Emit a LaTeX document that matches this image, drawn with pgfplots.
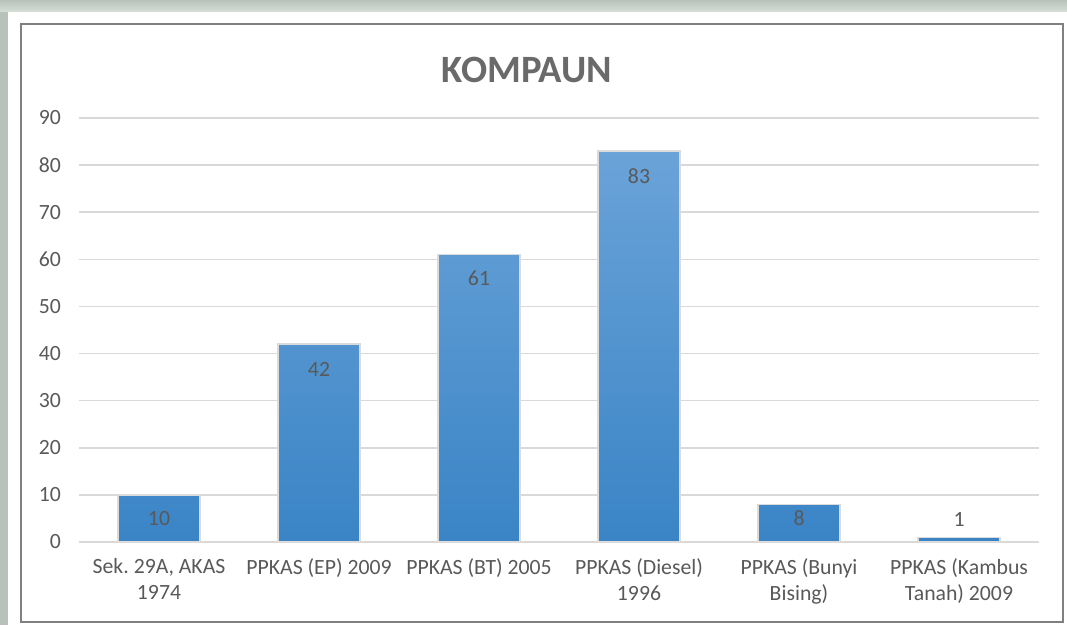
\documentclass[border=0pt]{standalone}
\usepackage{pgfplots}
\usepackage{pgfplotstable}
\pgfplotsset{compat=1.18}
\usepackage{fontspec}
\setmainfont{Carlito}
\frenchspacing

\definecolor{txt}{HTML}{595959}
\definecolor{gridc}{HTML}{D9D9D9}
\definecolor{bartop}{HTML}{6AA3D8}
\definecolor{barbot}{HTML}{3A84C6}
\definecolor{framec}{HTML}{B7C3BA}

% x, value, shift of the value label from the bar top (pt)
\pgfplotstableread{
x y dy
0 10 -18
1 42 -18.75
2 61 -18
3 83 -18.75
4 8 -10.5
5 1 13.5
}\kompaun

\begin{document}
\begin{tikzpicture}
% background and chart border, 1px = 0.75pt, origin at the plot area's lower left
\fill[framec] (-59.25pt,-62.25pt) rectangle (741pt,406.5pt);
\shade[top color=framec, bottom color=framec!55] (-59.25pt,397.5pt) rectangle (741pt,406.5pt);
\fill[white] (-53.25pt,-62.25pt) rectangle (741pt,397.5pt);
\draw[black!50, line width=1.5pt] (-43.5pt,-60pt) rectangle (738pt,388.5pt);

\begin{axis}[
	at={(0,0)}, anchor=south west,
	scale only axis, width=720pt, height=318pt,
	xmin=-0.5, xmax=5.5, ymin=0, ymax=90,
	ytick={0,10,...,90},
	xtick={0,...,5},
	xticklabels={{Sek. 29A, AKAS\\1974},{PPKAS (EP) 2009},{PPKAS (BT) 2005},{PPKAS (Diesel)\\1996},{PPKAS (Bunyi\\Bising)},{PPKAS (Kambus\\Tanah) 2009}},
	axis line style={draw=none},
	major tick length=0pt,
	ymajorgrids, grid style={gridc, line width=1.2pt},
	tick label style={font=\fontsize{16.3}{19.5}\selectfont, text=txt},
	/pgf/number format/assume math mode=true,
	x tick label style={align=center, anchor=north, yshift=-9pt},
	y tick label style={anchor=east, xshift=-10pt},
	title={KOMPAUN},
	title style={font=\fontsize{29}{31}\selectfont\bfseries, text=txt!90, at={(0.5,1)}, anchor=center, yshift=30pt, xshift=-24pt},
	nodes near coords,
	visualization depends on={\thisrow{dy} \as \dy},
	every node near coord/.append style={font=\fontsize{16.3}{19.5}\selectfont, text=txt, anchor=center, yshift=\dy pt, /pgf/number format/assume math mode=true},
]
\addplot[ybar, bar width=61.5pt, draw=black!14, line width=1pt, top color=bartop, bottom color=barbot] table[x=x, y=y] {\kompaun};
\end{axis}
\pgfresetboundingbox
\useasboundingbox (-59.25pt,-62.25pt) rectangle (741pt,406.5pt);
\end{tikzpicture}
\end{document}
